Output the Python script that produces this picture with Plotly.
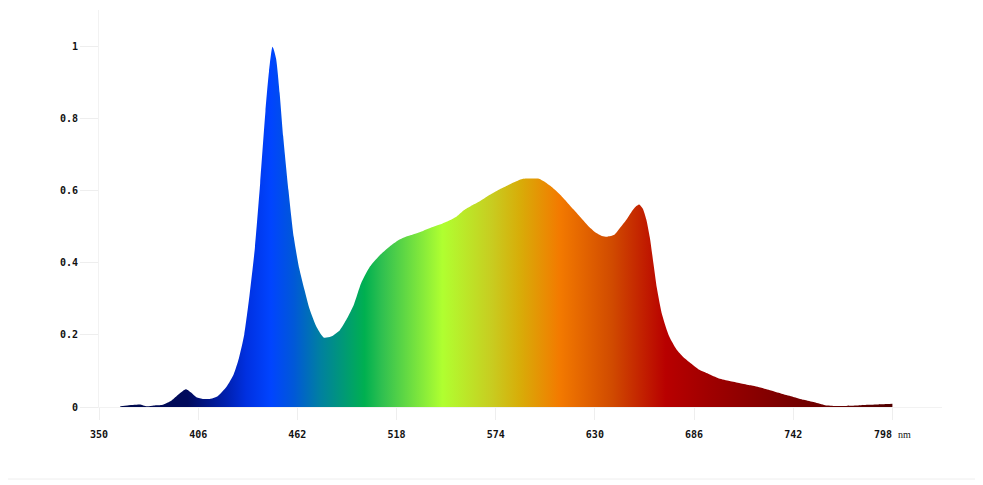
import plotly.graph_objects as go

wavelength = [362, 366, 370, 373, 377, 381, 386, 391, 395, 399, 402, 405, 409, 413, 417,
              422, 426, 429, 432, 435, 438, 441, 444, 446, 448, 450, 452, 454, 457, 460,
              463, 466, 469, 473, 477, 481, 486, 490, 494, 498, 503, 508, 514, 519, 524,
              529, 533, 538, 542, 547, 552, 556, 560, 565, 570, 575, 580, 584, 589, 594,
              598, 602, 605, 610, 614, 618, 622, 626, 630, 634, 637, 641, 644, 648, 651,
              653, 655, 657, 659, 661, 663, 665, 668, 672, 676, 680, 685, 689, 694, 700,
              706, 712, 718, 724, 730, 736, 742, 748, 754, 760, 766, 772, 778, 784, 790,
              795, 798]
intensity = [0.002, 0.004, 0.006, 0.007, 0.002, 0.004, 0.006, 0.018, 0.035, 0.049, 0.040,
             0.027, 0.022, 0.023, 0.030, 0.056, 0.090, 0.135, 0.20, 0.31, 0.44, 0.62, 0.82,
             0.93, 0.998, 0.965, 0.87, 0.75, 0.60, 0.47, 0.385, 0.325, 0.27, 0.22, 0.192,
             0.195, 0.213, 0.245, 0.285, 0.343, 0.389, 0.418, 0.444, 0.462, 0.473, 0.481,
             0.488, 0.498, 0.505, 0.515, 0.528, 0.545, 0.557, 0.570, 0.586, 0.600, 0.612,
             0.622, 0.632, 0.633, 0.633, 0.623, 0.612, 0.590, 0.569, 0.547, 0.525, 0.503,
             0.485, 0.474, 0.472, 0.477, 0.495, 0.520, 0.543, 0.555, 0.561, 0.550, 0.520,
             0.470, 0.400, 0.330, 0.255, 0.195, 0.160, 0.138, 0.118, 0.103, 0.092, 0.079,
             0.072, 0.066, 0.060, 0.053, 0.045, 0.036, 0.028, 0.020, 0.013, 0.005, 0.003,
             0.003, 0.004, 0.006, 0.007, 0.008, 0.009]

x_ticks = [350, 406, 462, 518, 574, 630, 686, 742, 798]
x_tick_text = ["350", "406", "462", "518", "574", "630", "686", "742",
               "798 <span style='font-family:Liberation Serif;font-weight:normal'>nm</span>"]
y_ticks = [0, 0.2, 0.4, 0.6, 0.8, 1]
y_tick_text = ["0", "0.2", "0.4", "0.6", "0.8", "1"]

# spectrum colour stops (wavelength, colour)
color_nm = [360, 400, 422, 433, 447, 460, 475, 500, 510, 544, 572, 588, 610, 640, 670, 694, 740, 800]
color_hex = ["#000a4a", "#000a5c", "#0020b0", "#0030e0", "#0044ff", "#0058d8", "#0080a0",
             "#00b050", "#30c050", "#b0ff30", "#c8cc20", "#d8ac08", "#f37a00", "#d04a00",
             "#b80000", "#a00000", "#780000", "#500000"]

g0, g1 = color_nm[0], color_nm[-1]
colorscale = [[(w - g0) / (g1 - g0), c] for w, c in zip(color_nm, color_hex)]

fig = go.Figure()
fig.add_trace(go.Scatter(
    x=wavelength, y=intensity, mode="lines", fill="tozeroy",
    line=dict(width=0, shape="spline", smoothing=0.6, color="#0044ff"),
    fillgradient=dict(type="horizontal", colorscale=colorscale, start=g0, stop=g1),
    hoverinfo="skip", showlegend=False,
))

tick_font = dict(family="DejaVu Sans Mono", size=10, color="#111111", weight="bold")

fig.update_layout(
    width=975, height=477,
    margin=dict(l=91, r=41, t=2, b=78),
    paper_bgcolor="white", plot_bgcolor="white",
    xaxis=dict(range=[350, 826], tickvals=x_ticks, ticktext=x_tick_text, ticks="outside",
               ticklen=12, tickcolor="#eeeeee", showline=True, linecolor="#f2f2f2",
               linewidth=1, showgrid=False, zeroline=False, tickfont=tick_font,
               ticklabelstandoff=6),
    yaxis=dict(range=[0, 1.1], tickvals=y_ticks, ticktext=y_tick_text, ticks="outside",
               ticklen=18, tickcolor="#eeeeee", showline=True, linecolor="#f2f2f2",
               linewidth=1, showgrid=False, zeroline=False, tickfont=tick_font),
    shapes=[dict(type="line", xref="paper", yref="paper",
                 x0=-0.11, x1=1.06, y0=-0.1814, y1=-0.1814,
                 line=dict(color="#eeeeee", width=1), layer="below")],
)

fig.write_html("out.html")
